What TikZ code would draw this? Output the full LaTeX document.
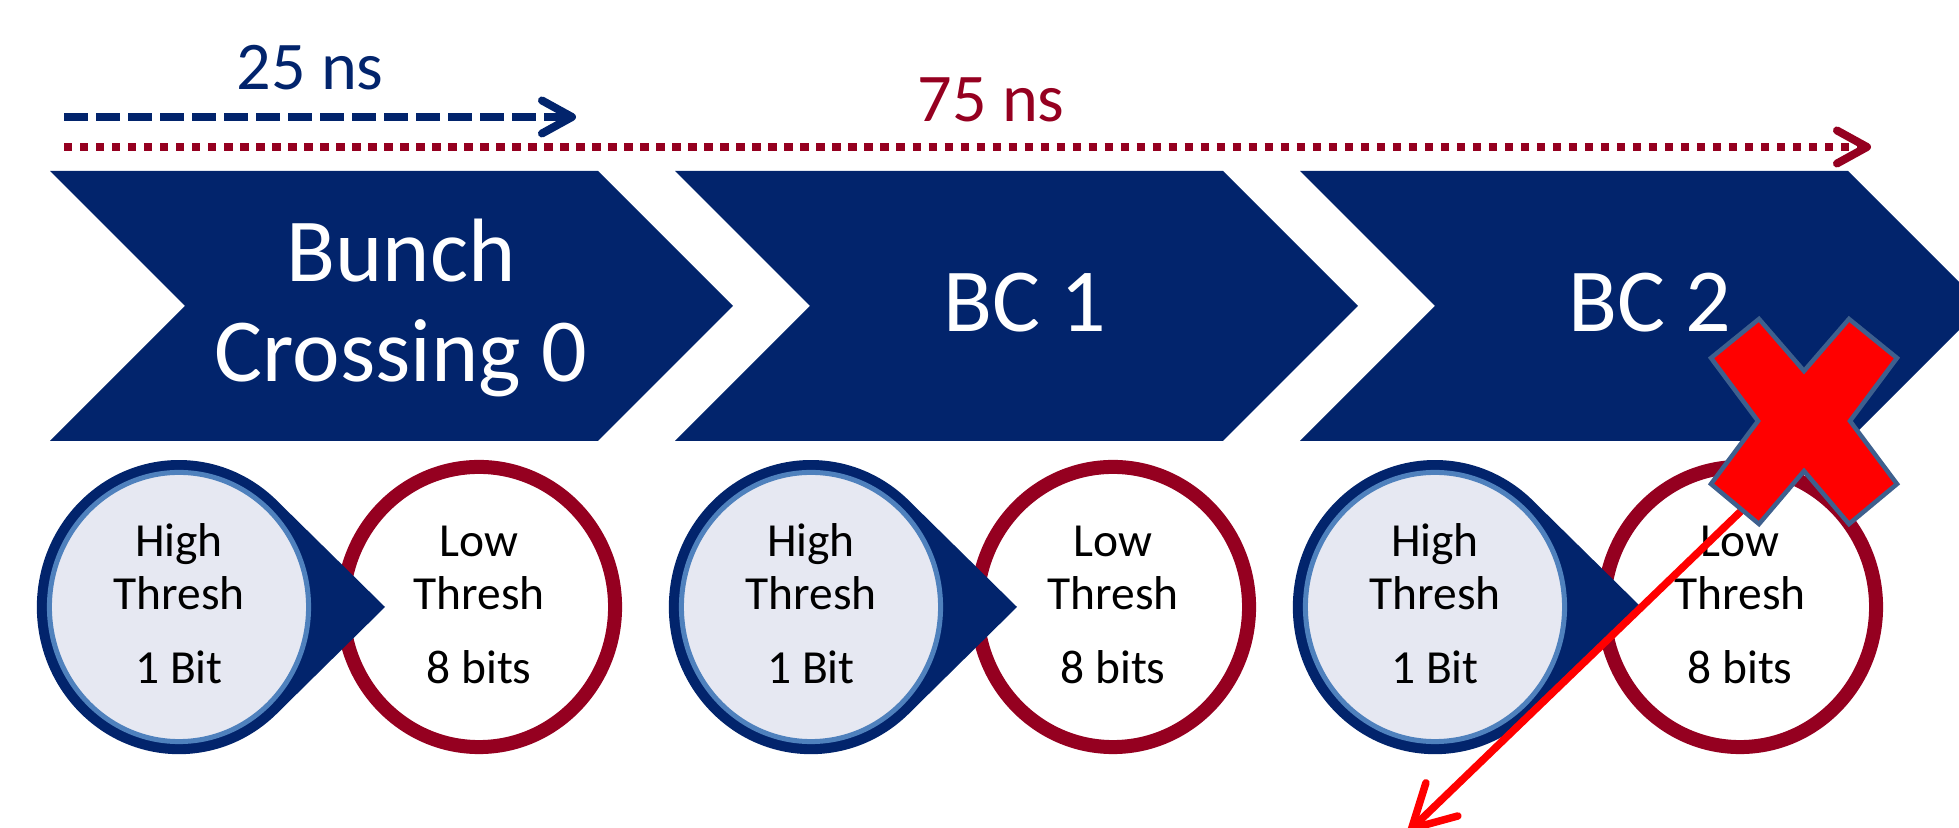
\documentclass[tikz,border=0pt]{standalone}
\usepackage{fontspec}
\setmainfont{Carlito}
\usetikzlibrary{arrows.meta}
\definecolor{navy}{RGB}{2,36,108}
\definecolor{wine}{RGB}{149,0,32}
\definecolor{ringblue}{RGB}{79,129,189}
\definecolor{pale}{RGB}{230,232,242}
\definecolor{xedge}{RGB}{62,96,142}
\definecolor{xred}{RGB}{255,0,0}
\begin{document}
\begin{tikzpicture}[x=0.01cm,y=-0.01cm,
  chevfill/.style={fill=navy},
  chevtext/.style={text=white, font=\fontsize{25.6}{28.45}\selectfont, anchor=base, inner sep=0},
  nslabel/.style={font=\fontsize{19.4}{23}\selectfont, anchor=base, inner sep=0},
  thr/.style={font=\fontsize{13.5}{16}\selectfont, anchor=base, inner sep=0, text=black},
  barb/.style={-{Straight Barb[length=0.3cm,width=0.33cm,line cap=round,line join=round]}},
  ring/.style={wine, line width=0.14cm},
  tear/.style={fill=navy},
  inner/.style={draw=ringblue, line width=0.05cm, fill=pale},
  cross/.style={fill=xred, draw=xedge, line width=0.045cm, line join=miter},
]
\path[use as bounding box] (0,0) rectangle (1959,828);
\clip (0,0) rectangle (1959,828);

% timing arrows
\coordinate (a25s) at (64,117);
\coordinate (a25e) at (576,117);
\coordinate (a75s) at (64,147);
\coordinate (a75e) at (1871,147);
\draw[navy, line width=0.08cm, dash pattern=on 0.24cm off 0.08cm, barb] (a25s) -- (a25e);
\draw[wine, line width=0.08cm, dash pattern=on 0.084cm off 0.076cm, barb] (a75s) -- (a75e);
\node[nslabel, text=navy] (t25) at (310,90) {25 ns};
\node[nslabel, text=wine] (t75) at (991,122) {75 ns};

% chevrons
\foreach \x in {50,675,1300}
  \fill[chevfill] (\x,171) -- (\x+548,171) -- (\x+683,306) -- (\x+548,441) -- (\x,441) -- (\x+135,306) -- cycle;
\node[chevtext] (bc0a) at (401,282) {Bunch};
\node[chevtext] (bc0b) at (401,382) {Crossing 0};
\node[chevtext] (bc1) at (1025,332) {BC 1};
\node[chevtext] (bc2) at (1650,332) {BC 2};

% threshold circles
\foreach \hx/\lx/\k in {179/479/0, 811/1113/1, 1435/1740/2} {
  \coordinate (lo\k) at (\lx,607);
  \coordinate (hi\k) at (\hx,607);
  \draw[ring] (lo\k) ellipse [x radius=1.36cm, y radius=1.40cm];
  \fill[tear] (\hx+206,607) -- (\hx+100.4,503.1)
     arc[start angle=45, end angle=315, x radius=1.42cm, y radius=1.47cm] -- cycle;
  \path[inner] (hi\k) ellipse [x radius=1.295cm, y radius=1.345cm];
  \node[thr] (hiA\k) at (\hx,557) {High};
  \node[thr] (hiB\k) at (\hx,610) {Thresh};
  \node[thr] (hiC\k) at (\hx,684) {1 Bit};
  \node[thr] (loA\k) at (\lx,557) {Low};
  \node[thr] (loB\k) at (\lx,610) {Thresh};
  \node[thr] (loC\k) at (\lx,684) {8 bits};
}

% red arrow and cross
\coordinate (rs) at (1765,488);
\coordinate (re) at (1406,834);
\draw[xred, line width=0.075cm, -{Straight Barb[length=0.42cm,width=0.46cm,line cap=round]}] (rs) -- (re);
\path[cross] (1759,319) -- (1804,371) -- (1849,319) -- (1897,358) -- (1850,421)
  -- (1897,484) -- (1849,524) -- (1804,471) -- (1759,524) -- (1711,484)
  -- (1758,421) -- (1711,358) -- cycle;
\end{tikzpicture}
\end{document}
